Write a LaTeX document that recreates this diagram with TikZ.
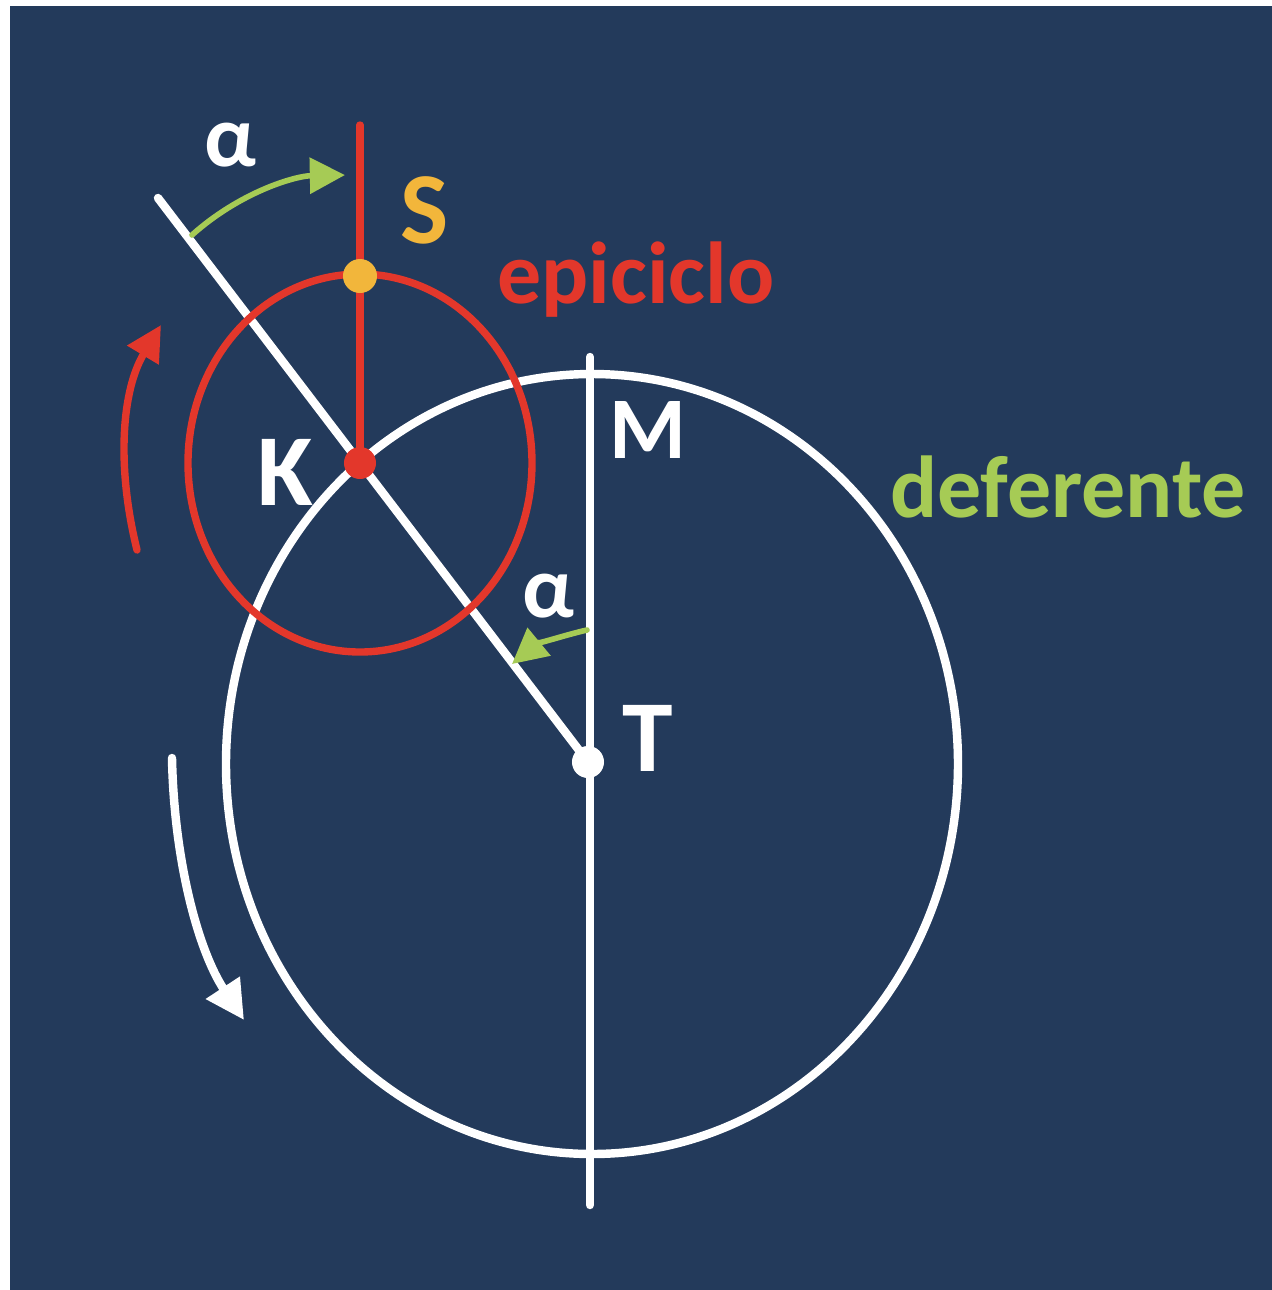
\documentclass[tikz,border=0pt]{standalone}
\usepackage{fontspec}
\setmainfont{Carlito}
\usetikzlibrary{arrows.meta}

\definecolor{fondo}{HTML}{233A5B}
\definecolor{rojo}{HTML}{E3372B}
\definecolor{oro}{HTML}{F2B63B}
\definecolor{verde}{HTML}{A6CB55}

\tikzset{
  etiq/.style={font=\bfseries\fontsize{25}{25}\selectfont, inner sep=0pt},
  letra/.style={font=\bfseries\fontsize{29}{29}\selectfont, inner sep=0pt},
  punto/.style={circle, inner sep=0pt, minimum size=0.32cm},
}

\begin{document}
\begin{tikzpicture}[x=0.01cm, y=-0.01cm, line cap=round]
  \useasboundingbox (0,0) rectangle (1272,1290);
  \fill[white] (0,0) rectangle (1272,1290);
  \fill[fondo] (10,6) rectangle (1272,1290);

  % puntos principales
  \coordinate (T) at (588,762);
  \coordinate (K) at (360,463);
  \coordinate (S) at (360,276);
  \coordinate (Dc) at (592,764);
  \coordinate (Mtop) at (590,357);
  \coordinate (Mbot) at (590,1205);
  \coordinate (Wtop) at (158,198);
  \coordinate (Rtop) at (360,125);

  % Deferente
  \draw[white, line width=2.4pt] (Dc) ellipse [x radius=366, y radius=390];
  \draw[white, line width=2.4pt] (Mtop) -- (Mbot);
  \draw[white, line width=2.4pt] (T) -- (Wtop);

  % Epiciclo
  \draw[rojo, line width=2.1pt] (K) ellipse [x radius=172, y radius=189];
  \draw[rojo, line width=2.1pt] (K) -- (Rtop);

  % flechas de angulo
  \draw[verde, line width=1.6pt, -{Triangle[length=10pt, width=10pt]}]
    (192,235) .. controls (240,192) and (295,176) .. (345,175);
  \draw[verde, line width=1.6pt, -{Triangle[length=10pt, width=10pt]}]
    (587,630) .. controls (565,635) and (535,645) .. (512,664);

  % sentido de giro
  \draw[rojo, line width=2.1pt, -{Triangle[length=10pt, width=10pt]}]
    (137,550) .. controls (116,465) and (122,390) .. (161,325);
  \draw[white, line width=2.4pt, -{Triangle[length=11pt, width=11pt]}]
    (172,758) .. controls (174,860) and (198,950) .. (244,1020);

  % puntos
  \node[punto, fill=white] (Tdot) at (T) {};
  \node[punto, fill=rojo] (Kdot) at (K) {};
  \node[punto, fill=oro, minimum size=0.34cm] (Sdot) at (S) {};

  % etiquetas
  \node[etiq, white] (alfa1) at (230,145) {α};
  \node[etiq, white] (alfa2) at (548,596) {α};
  \node[letra, oro] (Slab) at (425,210) {S};
  \node[letra, white] (Klab) at (285,472) {K};
  \node[etiq, white] (Mlab) at (648,430) {M};
  \node[letra, white] (Tlab) at (648,738) {T};
  \node[etiq, rojo] (epi) at (636,280) {epiciclo};
  \node[etiq, verde] (def) at (1068,487) {deferente};
\end{tikzpicture}
\end{document}
